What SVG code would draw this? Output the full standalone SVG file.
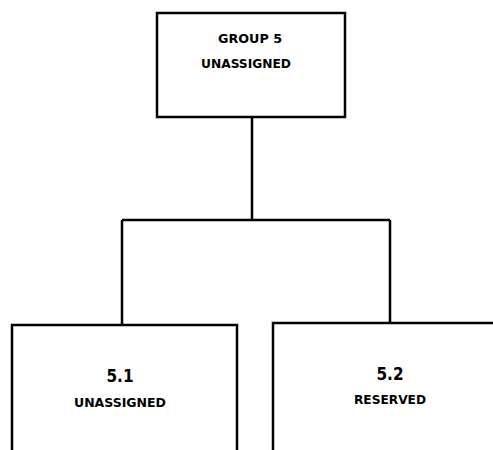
<svg xmlns="http://www.w3.org/2000/svg" width="493" height="450" viewBox="0 0 493 450">
<style>
.box{fill:#fff;stroke:#000;stroke-width:2.5}
.con{fill:none;stroke:#000;stroke-width:2.5}
.t{font-family:"DejaVu Sans Condensed","DejaVu Sans",sans-serif;font-weight:bold;fill:#000;text-anchor:middle}
.s{font-size:12px}
.n{font-size:17px}
</style>
<rect width="493" height="450" fill="#fff"/>
<g id="connectors">
<path class="con" d="M252 117 V220 M122 220 H390 M122 220 V325 M390 220 V323"/>
</g>
<g id="group5">
<rect class="box" x="157" y="13" width="188" height="104"/>
<text class="t s" x="250" y="43" textLength="64" lengthAdjust="spacingAndGlyphs">GROUP 5</text>
<text class="t s" x="246" y="68" textLength="90" lengthAdjust="spacingAndGlyphs">UNASSIGNED</text>
</g>
<g id="n51">
<path class="box" d="M12 452 V325 H237 V452"/>
<text class="t n" x="120" y="382">5.1</text>
<text class="t s" x="120" y="407" textLength="92" lengthAdjust="spacingAndGlyphs">UNASSIGNED</text>
</g>
<g id="n52">
<path class="box" d="M273 452 V323 H495"/>
<text class="t n" x="390" y="380">5.2</text>
<text class="t s" x="390" y="404" textLength="72" lengthAdjust="spacingAndGlyphs">RESERVED</text>
</g>
</svg>
